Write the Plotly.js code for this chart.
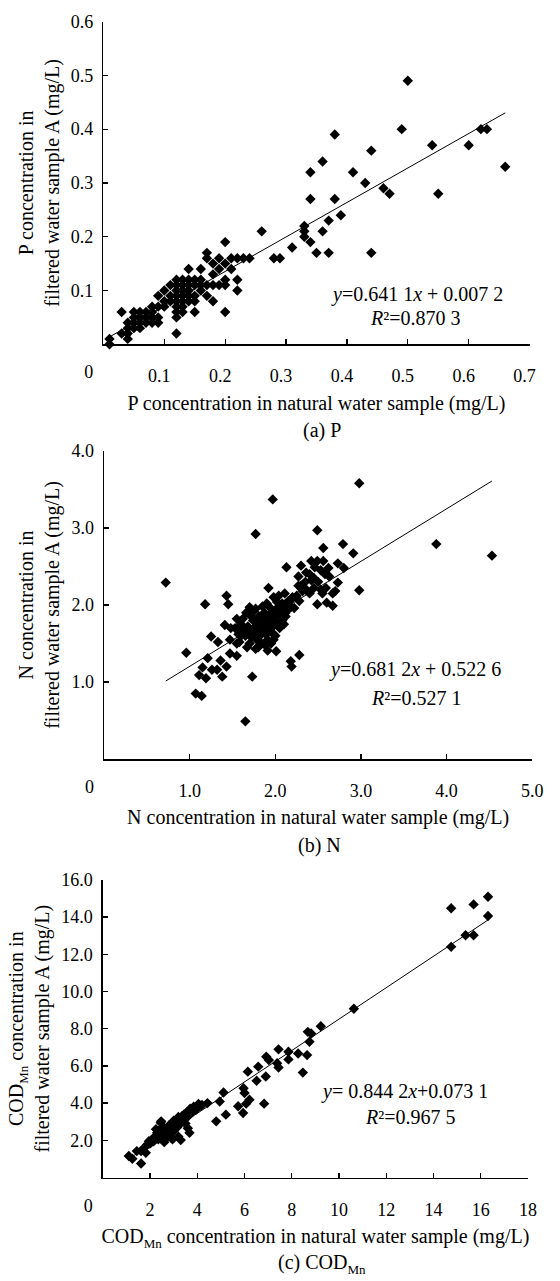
<!DOCTYPE html>
<html>
<head>
<meta charset="utf-8">
<script src="https://cdn.plot.ly/plotly-3.0.1.min.js"></script>
<style>
html,body{margin:0;padding:0;background:#fff;}
#chart{width:560px;height:1281px;}
</style>
</head>
<body>
<div id="chart"></div>
<script>
// ---------------- DATA ----------------
// (a) P  (mg/L)
const pNatural = [
  0.50,0.49,0.62,0.63,0.38,0.54,0.60,0.44,0.36,0.34,
  0.41,0.66,0.43,0.46,0.47,0.55,0.34,0.38,0.39,0.37,
  0.33,0.33,0.36,0.26,0.33,0.34,0.31,0.35,0.37,0.44,
  0.28,0.29,0.20,0.17,0.17,0.19,0.21,0.22,0.23,0.24,
  0.18,0.20,0.14,0.16,0.19,0.21,0.18,0.16,0.20,0.22,
  0.17,0.18,0.19,0.20,0.22,0.17,0.18,0.20,0.12,
  0.12,0.13,0.14,0.15,
  0.11,0.12,0.13,0.14,0.15,0.16,
  0.10,0.12,0.13,0.14,0.16,
  0.09,0.11,0.12,0.13,0.14,0.15,
  0.10,0.11,0.12,0.13,0.14,0.15,
  0.08,0.09,0.10,0.12,0.13,
  0.03,0.05,0.06,0.07,0.08,0.12,0.13,0.15,
  0.05,0.06,0.07,0.08,0.09,0.12,
  0.04,0.05,0.06,0.07,0.08,0.09,
  0.04,0.05,0.06,
  0.03,0.04,
  0.01,0.04,
  0.01
];
const pFiltered = [
  0.49,0.40,0.40,0.40,0.39,0.37,0.37,0.36,0.34,0.32,
  0.32,0.33,0.30,0.29,0.28,0.28,0.27,0.27,0.24,0.23,
  0.22,0.21,0.21,0.21,0.20,0.19,0.18,0.17,0.17,0.17,
  0.16,0.16,0.19,0.17,0.16,0.16,0.16,0.16,0.16,0.16,
  0.15,0.15,0.14,0.14,0.14,0.14,0.13,0.12,0.12,0.12,
  0.11,0.11,0.11,0.11,0.10,0.09,0.08,0.06,0.02,
  0.12,0.12,0.12,0.12,
  0.11,0.11,0.11,0.11,0.11,0.11,
  0.10,0.10,0.10,0.10,0.10,
  0.09,0.09,0.09,0.09,0.09,0.09,
  0.08,0.08,0.08,0.08,0.08,0.08,
  0.07,0.07,0.07,0.07,0.07,
  0.06,0.06,0.06,0.06,0.06,0.06,0.06,0.06,
  0.05,0.05,0.05,0.05,0.05,0.05,
  0.04,0.04,0.04,0.04,0.04,0.04,
  0.03,0.03,0.03,
  0.02,0.02,
  0.01,0.01,
  0.00
];
const pSlope = 0.6411, pIntercept = 0.0072;

// (b) N  (mg/L)
const nNatural = [
  2.98,1.97,2.49,1.77,2.79,3.88,2.56,2.91,4.53,0.72,
  2.98,2.80,2.73,2.13,2.30,2.42,2.49,2.56,2.46,2.63,
  2.27,2.36,2.53,2.42,2.73,2.27,2.36,2.45,2.53,2.59,
  2.67,2.70,2.67,2.60,2.49,1.92,1.43,1.45,1.18,1.70,
  1.77,2.04,2.11,2.19,2.22,1.98,2.02,2.08,1.55,1.41,
  1.48,2.06,1.25,1.33,1.47,1.55,1.64,1.98,0.96,1.21,
  1.47,1.55,1.77,1.91,2.01,2.18,2.19,2.28,1.36,1.43,
  1.15,1.26,1.32,1.11,1.19,1.38,1.73,1.07,1.14,1.65,
  1.60,1.62,1.65,1.68,1.70,1.72,1.74,1.75,1.76,1.78,
  1.79,1.80,1.81,1.82,1.83,1.84,1.85,1.86,1.87,1.88,
  1.89,1.90,1.91,1.92,1.93,1.94,1.95,1.96,1.97,1.98,
  2.00,2.01,2.02,2.04,2.05,2.07,2.10,1.70,1.67,1.58,
  1.75,1.85,1.90,1.80,1.62,1.53,1.57,2.12,2.15,2.20,
  2.18,2.25,2.32,2.05,2.08,2.12,2.15,1.95,2.00,1.88,
  1.72,1.66,1.60,1.58,2.10,2.28,2.35,2.40,2.45,2.50,
  2.58,2.62,2.40,2.55,2.30
];
const nFiltered = [
  3.58,3.37,2.97,2.92,2.79,2.79,2.74,2.67,2.64,2.29,
  2.19,2.48,2.54,2.49,2.51,2.57,2.57,2.57,2.49,2.37,
  2.37,2.42,2.45,2.32,2.29,2.25,2.20,2.22,2.20,2.22,
  2.15,2.18,1.99,2.03,2.01,2.22,2.12,2.01,2.01,1.97,
  1.95,2.12,2.15,2.08,1.96,2.10,2.04,2.02,1.82,1.74,
  1.70,1.74,1.59,1.52,1.55,1.50,1.63,1.55,1.38,1.31,
  1.37,1.34,1.43,1.41,1.40,1.27,1.20,1.35,1.28,1.20,
  1.19,1.16,1.16,1.09,1.05,1.07,1.07,0.85,0.82,0.49,
  1.75,1.68,1.60,1.72,1.65,1.58,1.80,1.70,1.62,1.55,
  1.75,1.68,1.85,1.60,1.72,1.50,1.65,1.78,1.90,1.70,
  1.62,1.82,1.55,1.75,1.68,1.88,1.95,1.80,1.72,1.62,
  1.85,1.92,1.78,1.98,1.88,1.95,2.00,1.50,1.45,1.52,
  1.92,1.98,2.02,1.45,1.82,1.70,1.62,1.90,2.05,2.10,
  1.97,2.12,2.18,1.70,1.80,1.85,1.95,1.50,1.60,1.48,
  1.85,1.90,1.60,1.70,1.75,2.05,2.30,2.40,2.35,2.30,
  2.40,2.48,2.15,2.15,2.25
];
const nSlope = 0.6812, nIntercept = 0.5226;

// (c) COD_Mn  (mg/L)
const codNatural = [
  16.31,15.70,14.75,16.31,15.36,15.70,14.75,10.63,9.23,8.68,
  8.82,8.75,8.65,8.27,8.47,7.86,7.86,7.44,7.44,7.38,
  6.92,7.03,6.58,6.90,6.51,6.14,6.83,5.96,6.00,6.21,
  5.73,5.94,6.07,5.11,4.95,5.21,4.80,4.43,4.15,3.95,
  3.74,3.61,3.40,3.26,3.06,2.92,2.78,2.65,2.51,2.37,
  2.23,2.03,1.89,1.75,1.62,3.67,3.30,2.47,1.10,1.25,
  1.44,1.62,1.82,1.99,4.05,3.85,3.55,3.45,3.35,3.20,
  3.10,3.00,2.90,2.80,2.70,2.60,2.55,2.40,2.30,2.20,
  2.15,2.35,2.50,2.75,2.85,3.00,3.15,3.25,3.50,3.60,
  3.20,2.95,2.60,3.80,4.00,4.20,3.70,2.45,2.25,1.95,
  2.05
];
const codFiltered = [
  15.09,14.68,14.47,14.06,13.02,13.02,12.40,9.07,8.13,7.83,
  7.74,7.30,6.58,6.67,5.64,6.76,6.35,6.89,5.91,6.14,
  6.49,6.32,5.96,5.43,5.20,5.69,3.97,4.80,4.54,4.18,
  3.83,3.47,3.97,4.57,4.09,3.38,3.02,4.00,3.86,3.65,
  3.47,3.29,3.20,3.02,2.94,2.76,2.67,2.58,2.40,2.22,
  2.05,1.87,1.78,1.60,1.42,2.40,2.01,3.02,1.16,1.01,
  1.42,0.75,1.33,1.83,3.95,3.80,3.50,3.40,3.30,3.25,
  3.10,3.05,2.90,2.80,2.45,2.30,2.70,2.55,2.40,2.20,
  1.95,2.05,2.10,2.20,2.35,2.50,2.70,2.85,2.90,2.65,
  2.20,2.05,1.90,3.55,3.75,3.90,3.70,2.95,2.60,1.95,
  2.00
];
const codSlope = 0.8442, codIntercept = 0.0731;

// Tick values / labels
const pXTicks = [0.1,0.2,0.3,0.4,0.5,0.6,0.7];
const pXLabels = ['0.1','0.2','0.3','0.4','0.5','0.6','0.7'];
const pYTicks = [0.1,0.2,0.3,0.4,0.5,0.6];
const pYLabels = ['0.1','0.2','0.3','0.4','0.5','0.6'];
const nXTicks = [1,2,3,4,5];
const nXLabels = ['1.0','2.0','3.0','4.0','5.0'];
const nYTicks = [1,2,3,4];
const nYLabels = ['1.0','2.0','3.0','4.0'];
const codXTicks = [2,4,6,8,10,12,14,16,18];
const codXLabels = ['2','4','6','8','10','12','14','16','18'];
const codYTicks = [2,4,6,8,10,12,14,16];
const codYLabels = ['2.0','4.0','6.0','8.0','10.0','12.0','14.0','16.0'];
const originTick = [0];
const originLabel = ['0'];

// ---------------- LAYOUT HELPERS ----------------
const W = 560, H = 1281;
const FONT = '"Liberation Serif", "Times New Roman", Times, serif';
const fx = v => v / W;
const fy = v => 1 - v / H;
const MN = '<span style="font-size:13px;baseline-shift:-5px">Mn</span>';
const NB = n => '\u00a0'.repeat(n);   // pads a centred title to nudge it right

const geom = {
  a: {x0: 101.3, x1: 540.0, yTop: 11.7,  yBot: 336.9},
  b: {x0: 102.0, x1: 542.7, yTop: 444.3, yBot: 755.0},
  c: {x0: 100.7, x1: 538.3, yTop: 876.7, yBot: 1176.7}
};
const ZERO_SHIFT = 15;   // the "0" label sits left of the origin

function scatter(x, y, xa, ya) {
  return {x: x, y: y, xaxis: xa, yaxis: ya, type: 'scatter', mode: 'markers',
    marker: {symbol: 'diamond', size: 8, color: '#000', line: {width: 0}},
    hoverinfo: 'skip', cliponaxis: false};
}
function trend(x, slope, intercept, xa, ya) {
  const lo = Math.min.apply(null, x), hi = Math.max.apply(null, x);
  return {x: [lo, hi], y: [slope * lo + intercept, slope * hi + intercept],
    xaxis: xa, yaxis: ya, type: 'scatter', mode: 'lines',
    line: {color: '#000', width: 1}, hoverinfo: 'skip'};
}
function holder(xa, ya) {
  return {x: [], y: [], xaxis: xa, yaxis: ya, type: 'scatter', mode: 'markers',
    hoverinfo: 'skip', showlegend: false};
}

const tickFont = {family: FONT, size: 18, color: '#000'};
const titleFont = {family: FONT, size: 20, color: '#000'};

function xAxis(g, range, tv, tt, title, anchor, shift) {
  return {
    domain: [fx(g.x0), fx(g.x1)], range: range, anchor: anchor,
    tickmode: 'array', tickvals: tv, ticktext: tt,
    showline: true, linecolor: '#000', linewidth: 1.5,
    ticks: 'inside', ticklen: 5, tickwidth: 1.3, tickcolor: '#000',
    showgrid: false, zeroline: false, fixedrange: true,
    tickfont: tickFont,
    ticklabelstandoff: 15, ticklabelshift: shift,
    automargin: true,
    title: {text: title, font: titleFont, standoff: 10}
  };
}
function zeroAxis(g, range, anchor) {
  return {
    domain: [fx(g.x0 - ZERO_SHIFT), fx(g.x1 - ZERO_SHIFT)], range: range, anchor: anchor,
    tickmode: 'array', tickvals: originTick, ticktext: originLabel,
    showline: false, ticks: '', showgrid: false, zeroline: false, fixedrange: true,
    tickfont: tickFont, ticklabelstandoff: 15, automargin: true
  };
}
function yAxis(g, range, tv, tt, title, anchor) {
  return {
    domain: [fy(g.yBot), fy(g.yTop)], range: range, anchor: anchor,
    tickmode: 'array', tickvals: tv, ticktext: tt,
    showline: true, linecolor: '#000', linewidth: 1.5,
    ticks: 'inside', ticklen: 5, tickwidth: 1.3, tickcolor: '#000',
    showgrid: false, zeroline: false, fixedrange: true,
    tickfont: tickFont,
    ticklabelstandoff: 5,
    automargin: true,
    title: {text: title, font: titleFont, standoff: 6}
  };
}

const traces = [
  scatter(pNatural, pFiltered, 'x', 'y'),
  trend(pNatural, pSlope, pIntercept, 'x', 'y'),
  scatter(nNatural, nFiltered, 'x2', 'y2'),
  trend(nNatural, nSlope, nIntercept, 'x2', 'y2'),
  scatter(codNatural, codFiltered, 'x3', 'y3'),
  trend(codNatural, codSlope, codIntercept, 'x3', 'y3'),
  holder('x4', 'y'), holder('x5', 'y2'), holder('x6', 'y3')
];

function txt(text, xp, yp, size) {
  return {text: text, x: fx(xp), y: fy(yp), xref: 'paper', yref: 'paper',
    showarrow: false, xanchor: 'center', yanchor: 'middle',
    font: {family: FONT, size: size, color: '#000'}};
}

const layout = {
  width: W, height: H,
  margin: {l: 0, r: 0, t: 0, b: 0, pad: 0},
  paper_bgcolor: '#ffffff', plot_bgcolor: 'rgba(0,0,0,0)',
  showlegend: false,
  font: {family: FONT, color: '#000', size: 18},
  xaxis: xAxis(geom.a, [0, 0.7], pXTicks, pXLabels,
    NB(3) + 'P concentration in natural water sample (mg/L)', 'y', -5),
  yaxis: yAxis(geom.a, [0, 0.6], pYTicks, pYLabels,
    'P concentration in<br>filtered water sample A (mg/L)', 'x'),
  xaxis2: xAxis(geom.b, [0, 5], nXTicks, nXLabels,
    NB(2) + 'N concentration in natural water sample (mg/L)', 'y2', 0),
  yaxis2: yAxis(geom.b, [0, 4], nYTicks, nYLabels,
    'N concentration in<br>filtered water sample A (mg/L)', 'x2'),
  xaxis3: xAxis(geom.c, [0, 18], codXTicks, codXLabels,
    NB(5) + 'COD' + MN + ' concentration in natural water sample (mg/L)', 'y3', 0),
  yaxis3: yAxis(geom.c, [0, 16], codYTicks, codYLabels,
    'COD' + MN + ' concentration in<br>filtered water sample A (mg/L)', 'x3'),
  xaxis4: zeroAxis(geom.a, [0, 0.7], 'y'),
  xaxis5: zeroAxis(geom.b, [0, 5], 'y2'),
  xaxis6: zeroAxis(geom.c, [0, 18], 'y3'),
  annotations: [
    txt('<i>y</i>=0.641 1<i>x</i> + 0.007 2', 424, 287, 20),
    txt('<i>R</i>\u00b2=0.870 3', 423, 310, 20),
    txt('<i>y</i>=0.681 2<i>x</i> + 0.522 6', 422, 665, 20),
    txt('<i>R</i>\u00b2=0.527 1', 424, 693, 20),
    txt('<i>y</i>= 0.844 2<i>x</i>+0.073 1', 411, 1090, 20),
    txt('<i>R</i>\u00b2=0.967 5', 417, 1116, 20),
    txt('(a) P', 326, 424, 20),
    txt('(b) N', 324, 842, 20),
    txt('(c) COD' + MN, 326, 1264, 20)
  ]
};

Plotly.newPlot('chart', traces, layout, {staticPlot: true, displayModeBar: false});
</script>
</body>
</html>
